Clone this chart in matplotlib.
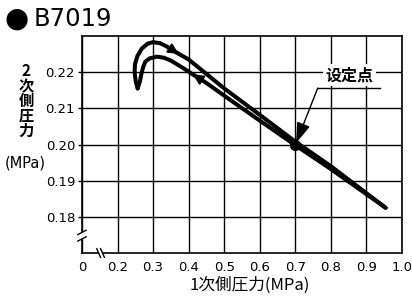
import matplotlib
matplotlib.use("Agg")
import matplotlib.pyplot as plt

plt.rcParams['font.family'] = ['DejaVu Sans', 'Noto Sans CJK JP']
cjk = ['Noto Sans CJK JP', 'DejaVu Sans']

# 1次側圧力 上昇時 (MPa)
up_x = [0.2565, 0.251, 0.248, 0.249, 0.256, 0.268, 0.285, 0.300, 0.320, 0.340,
        0.361, 0.40, 0.45, 0.50, 0.60, 0.70, 0.80, 0.954]
up_y = [0.2155, 0.2175, 0.2200, 0.2222, 0.2245, 0.2265, 0.2279, 0.2283, 0.2280, 0.2270,
        0.2257, 0.2235, 0.2195, 0.2155, 0.2082, 0.2008, 0.1940, 0.1825]
# 下降時
down_x = [0.954, 0.80, 0.70, 0.60, 0.50, 0.45, 0.413, 0.385, 0.35, 0.33,
          0.31, 0.29, 0.278, 0.272, 0.267, 0.263, 0.2565]
down_y = [0.1825, 0.1932, 0.1998, 0.2066, 0.2135, 0.2170, 0.2193, 0.2211, 0.2232, 0.2240,
          0.2243, 0.2238, 0.2229, 0.2214, 0.2195, 0.2175, 0.2155]

set_x, set_y = 0.70, 0.200

xticks = [0.1, 0.2, 0.3, 0.4, 0.5, 0.6, 0.7, 0.8, 0.9, 1.0]
xlabels = ['0', '0.2', '0.3', '0.4', '0.5', '0.6', '0.7', '0.8', '0.9', '1.0']
yticks = [0.18, 0.19, 0.20, 0.21, 0.22]
ylabels = ['0.18', '0.19', '0.20', '0.21', '0.22']

fig = plt.figure(figsize=(4.12, 2.97), dpi=100)
W, H = 412, 297
ax = fig.add_axes([82 / W, 1 - 253 / H, 320 / W, 217 / H])

ax.set_xlim(0.1, 1.0)
ax.set_ylim(0.17, 0.23)
ax.set_xticks(xticks)
ax.set_xticklabels(xlabels, fontsize=9.5)
ax.set_yticks(yticks)
ax.set_yticklabels(ylabels, fontsize=9.5)
ax.tick_params(axis='x', length=0, pad=6)
ax.tick_params(axis='y', length=3, width=1, pad=2)
ax.grid(True, color='black', linewidth=1)
for s in ax.spines.values():
    s.set_linewidth(1.2)

ax.plot(up_x, up_y, color='black', lw=2.9, solid_capstyle='round',
        solid_joinstyle='round', zorder=3)
ax.plot(down_x, down_y, color='black', lw=2.9, solid_capstyle='round',
        solid_joinstyle='round', zorder=3)
ax.plot(set_x, set_y, 'o', color='black', ms=7, zorder=4)

# 方向の矢印
head = '-|>,head_length=0.6,head_width=0.3'
ax.annotate('', xy=(0.372, 0.2251), xytext=(0.335, 0.2273),
            arrowprops=dict(arrowstyle=head, color='black', lw=1.5, mutation_scale=10,
                            shrinkA=0, shrinkB=0), zorder=5)
ax.annotate('', xy=(0.412, 0.2194), xytext=(0.45, 0.2170),
            arrowprops=dict(arrowstyle=head, color='black', lw=1.5, mutation_scale=10,
                            shrinkA=0, shrinkB=0), zorder=5)

# 設定点
ax.plot([0.763, 0.937], [0.2156, 0.2156], color='black', lw=1, zorder=5)
ax.annotate('', xy=(set_x + 0.002, set_y + 0.0004), xytext=(0.763, 0.2156),
            arrowprops=dict(arrowstyle='-|>,head_length=0.9,head_width=0.3',
                            color='black', lw=1, mutation_scale=14,
                            shrinkA=0, shrinkB=0), zorder=5)
ax.text(0.853, 0.2192, '设定点', family=cjk, fontsize=11.5, fontweight='bold',
        ha='center', va='center', zorder=6,
        bbox=dict(facecolor='white', edgecolor='none', pad=2))

# 軸の省略記号
tr = ax.transAxes
ax.add_patch(plt.Rectangle((-0.02, 0.065), 0.04, 0.03, transform=tr,
                           facecolor='white', edgecolor='none', clip_on=False, zorder=6))
for dy in (0.065, 0.095):
    ax.plot([-0.013, 0.013], [dy - 0.01, dy + 0.01], color='black', lw=1,
            transform=tr, clip_on=False, zorder=7)
ax.add_patch(plt.Rectangle((0.052, -0.02), 0.012, 0.04, transform=tr,
                           facecolor='white', edgecolor='none', clip_on=False, zorder=6))
for dx in (0.052, 0.064):
    ax.plot([dx - 0.006, dx + 0.006], [0.02, -0.02], color='black', lw=1,
            transform=tr, clip_on=False, zorder=7)

fig.text(5 / W, 1 - 19 / H, '●', fontsize=20, va='center', ha='left')
fig.text(34 / W, 1 - 19 / H, 'B7019', fontsize=17.5, va='center', ha='left')

for i, ch in enumerate(['2', '次', '側', '圧', '力']):
    fig.text(26 / W, 1 - (71 + 15 * i) / H, ch, family=cjk, fontsize=11,
             fontweight='bold', ha='center', va='center')
fig.text(25 / W, 1 - 163 / H, '(MPa)', fontsize=10.5, ha='center', va='center')
fig.text(250 / W, 1 - 285 / H, '1次側圧力(MPa)', family=cjk, fontsize=12,
         ha='center', va='center')

fig.savefig('out.png', dpi=100)
